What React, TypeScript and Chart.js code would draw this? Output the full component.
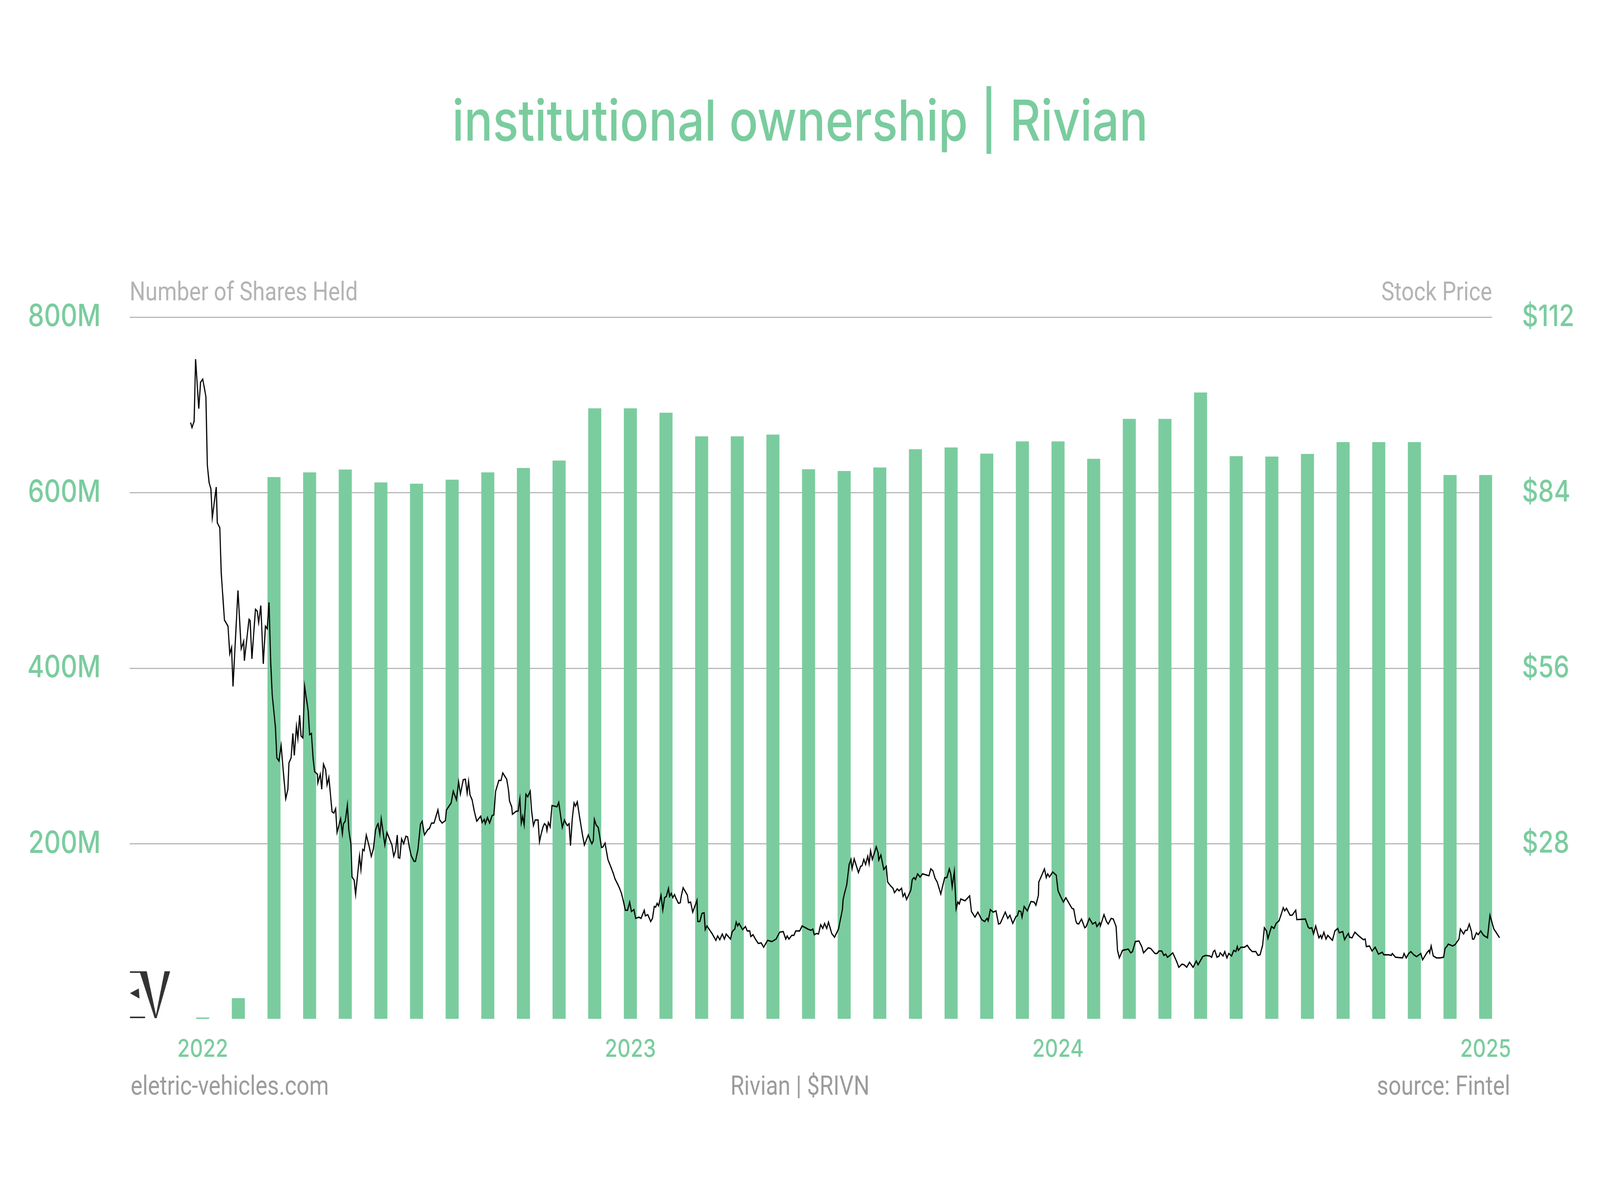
import React, { useEffect, useRef } from 'react';
import { Chart, registerables } from 'chart.js';

Chart.register(...registerables);

const GREEN = '#7acc9e';
const GRID = '#b8b8b8';
const AXIS_TITLE_GRAY = '#b3b3b3';
const FOOT_GRAY = '#9b9b9b';

const titleText = 'institutional ownership | Rivian';
const leftAxisTitle = 'Number of Shares Held';
const rightAxisTitle = 'Stock Price';
const footerLeft = 'eletric-vehicles.com';
const footerCenter = 'Rivian | $RIVN';
const footerRight = 'source: Fintel';

// Monthly institutional holdings (millions of shares)
const barMonths = [
  '2022-01', '2022-02', '2022-03', '2022-04', '2022-05', '2022-06', '2022-07', '2022-08', '2022-09', '2022-10', '2022-11', '2022-12',
  '2023-01', '2023-02', '2023-03', '2023-04', '2023-05', '2023-06', '2023-07', '2023-08', '2023-09', '2023-10', '2023-11', '2023-12',
  '2024-01', '2024-02', '2024-03', '2024-04', '2024-05', '2024-06', '2024-07', '2024-08', '2024-09', '2024-10', '2024-11', '2024-12',
  '2025-01',
];
const sharesHeldM = [
  2, 24, 617.6, 623, 626.2, 611.5, 610.1, 614.7, 623, 628, 636.5, 696,
  696, 691, 664, 664, 666, 626.6, 624.6, 628.5, 649.4, 651.4, 644.4, 658.3,
  658.3, 638.5, 684, 684, 714, 641.4, 641, 644, 657.5, 657.5, 657.5, 620,
  620,
];

// Tick labels
const yearTicks = ['2022', '2023', '2024', '2025'];
const shareTicks = [200, 400, 600, 800];
const priceTicks = [28, 56, 84, 112];

// Stock price: [months since Jan 2022, USD]
const stockPrice: [number, number][] = [
  [-0.34, 95.2], [-0.30, 94.4], [-0.24, 95.4], [-0.20, 105.3], [-0.11, 97.4], [-0.06, 101.6], [0.00, 102.1], [0.04, 100.9],
  [0.09, 99.3], [0.13, 88.4], [0.18, 85.6], [0.23, 84.6], [0.27, 80.0], [0.38, 84.9], [0.41, 79.2], [0.48, 78.4],
  [0.52, 71.2], [0.61, 63.7], [0.71, 62.7], [0.76, 58.3], [0.81, 59.3], [0.85, 53.1], [0.99, 68.4], [1.08, 59.1],
  [1.15, 60.3], [1.17, 57.2], [1.30, 63.8], [1.33, 63.6], [1.38, 57.5], [1.48, 65.4], [1.53, 65.1], [1.57, 63.3],
  [1.63, 66.0], [1.70, 56.7], [1.76, 62.7], [1.81, 62.3], [1.86, 66.5], [1.91, 56.7], [1.95, 51.8],
  [2.04, 46.6], [2.08, 41.7], [2.14, 41.2], [2.20, 43.7], [2.27, 39.0], [2.33, 35.2], [2.39, 36.7], [2.42, 40.9],
  [2.48, 41.7], [2.53, 45.6], [2.57, 42.1], [2.63, 46.7], [2.67, 44.8], [2.72, 48.5], [2.76, 45.2], [2.81, 44.9],
  [2.86, 53.1], [2.96, 49.2], [3.00, 45.4], [3.05, 45.6], [3.10, 41.5], [3.14, 39.5], [3.22, 39.1], [3.23, 37.7],
  [3.30, 39.1], [3.34, 36.7], [3.39, 40.7], [3.45, 39.8], [3.49, 37.4], [3.54, 38.6], [3.63, 33.1], [3.68, 32.9],
  [3.73, 33.6], [3.77, 29.8], [3.87, 32.0], [3.92, 29.6], [3.95, 31.2], [4.00, 31.6], [4.06, 34.2], [4.10, 30.2],
  [4.16, 27.9], [4.19, 22.7], [4.25, 22.2], [4.29, 19.9], [4.40, 26.1], [4.44, 23.9], [4.49, 27.1], [4.53, 26.9],
  [4.59, 29.4], [4.67, 27.6], [4.73, 26.0], [4.79, 27.2], [4.85, 30.2], [4.89, 30.9], [4.92, 31.2], [4.97, 29.5],
  [5.01, 32.0], [5.11, 27.8], [5.17, 29.8], [5.31, 27.8], [5.36, 26.0], [5.41, 26.9], [5.46, 29.4], [5.49, 25.8],
  [5.53, 25.7], [5.58, 28.8], [5.64, 28.0], [5.70, 29.2], [5.75, 29.1], [5.80, 27.4], [5.85, 26.1], [5.93, 25.2],
  [5.97, 25.2], [6.04, 27.1], [6.11, 31.1], [6.16, 31.6], [6.22, 29.4], [6.32, 30.3], [6.36, 30.4], [6.42, 31.3],
  [6.49, 31.3], [6.60, 33.4], [6.65, 31.8], [6.72, 31.3], [6.81, 31.7], [6.84, 33.4], [6.97, 34.5], [7.03, 36.4],
  [7.12, 35.0], [7.18, 37.9], [7.23, 35.9], [7.31, 38.2], [7.37, 38.3], [7.42, 36.1], [7.46, 38.0], [7.50, 35.8],
  [7.56, 35.0], [7.62, 33.2], [7.69, 31.6], [7.80, 32.4], [7.84, 31.4], [7.90, 31.9], [7.93, 31.2], [7.99, 32.2],
  [8.05, 31.3], [8.12, 32.5], [8.17, 32.6], [8.22, 36.4], [8.31, 38.1], [8.37, 38.1], [8.42, 39.3], [8.53, 38.3],
  [8.58, 36.6], [8.61, 34.8], [8.67, 33.9], [8.69, 32.7], [8.80, 33.2], [8.85, 33.2], [8.90, 35.2],
  [8.94, 31.3], [8.98, 32.4], [9.02, 31.0], [9.07, 35.9], [9.12, 35.5], [9.19, 36.4], [9.23, 33.2], [9.28, 30.9],
  [9.33, 31.8], [9.41, 31.8], [9.45, 28.3], [9.49, 29.4], [9.55, 30.7], [9.59, 31.2], [9.64, 30.9], [9.66, 30.1],
  [9.70, 31.4], [9.75, 30.7], [9.80, 34.1], [9.94, 33.9], [9.99, 34.6], [10.09, 30.6], [10.15, 31.8], [10.19, 31.3],
  [10.23, 30.9], [10.28, 31.2], [10.32, 27.7], [10.37, 32.0], [10.42, 34.5], [10.46, 34.0], [10.51, 34.7], [10.58, 32.1],
  [10.66, 29.3], [10.71, 27.8], [10.82, 29.4], [10.88, 28.5], [10.92, 28.0], [10.96, 28.5], [10.99, 31.9], [11.04, 31.0],
  [11.10, 30.6], [11.19, 27.4], [11.23, 27.5], [11.29, 28.1], [11.37, 25.5], [11.46, 24.2], [11.52, 23.3], [11.57, 22.4],
  [11.64, 21.6], [11.69, 21.0], [11.75, 20.1], [11.81, 18.7], [11.86, 17.4], [11.92, 17.4], [11.98, 18.7], [12.03, 17.2],
  [12.10, 17.5], [12.15, 16.1], [12.24, 16.3], [12.30, 16.1], [12.39, 17.4], [12.42, 16.5], [12.49, 16.7], [12.57, 15.6],
  [12.62, 16.1], [12.67, 18.0], [12.71, 17.9], [12.75, 18.5], [12.79, 18.1], [12.86, 19.8], [12.91, 17.4], [12.96, 19.4],
  [13.01, 19.6], [13.07, 20.9], [13.10, 19.6], [13.15, 20.1], [13.19, 19.4], [13.24, 19.9], [13.28, 19.3], [13.35, 18.5],
  [13.40, 18.6], [13.43, 19.7], [13.48, 21.0], [13.54, 20.4], [13.60, 19.8], [13.63, 18.6], [13.69, 18.7], [13.75, 17.1],
  [13.87, 19.0], [13.89, 15.6], [13.95, 15.6], [14.01, 16.9], [14.07, 17.0], [14.10, 14.3], [14.15, 14.9], [14.23, 14.2],
  [14.29, 13.7], [14.40, 12.6], [14.45, 13.3], [14.51, 12.7], [14.58, 13.6], [14.64, 12.8], [14.69, 13.6], [14.81, 12.8],
  [14.86, 14.0], [14.93, 14.4], [14.97, 15.5], [15.01, 14.9], [15.05, 15.3], [15.15, 14.3], [15.23, 14.8], [15.28, 14.1],
  [15.35, 14.1], [15.38, 13.2], [15.44, 13.5], [15.52, 12.7], [15.59, 12.1], [15.67, 12.2], [15.74, 11.5], [15.85, 12.6],
  [15.97, 12.4], [16.09, 12.8], [16.19, 13.9], [16.29, 14.0],
  [16.36, 12.8], [16.40, 13.3], [16.45, 12.8], [16.53, 13.4], [16.59, 13.4], [16.64, 14.1], [16.75, 14.1], [16.82, 14.9],
  [16.98, 14.4], [17.07, 14.2], [17.12, 14.4], [17.16, 13.5], [17.23, 13.7], [17.28, 13.6], [17.34, 15.1], [17.40, 14.5],
  [17.45, 15.3], [17.51, 14.5], [17.56, 15.5], [17.65, 13.7], [17.73, 13.1], [17.84, 14.4], [17.95, 17.5], [17.97, 19.1],
  [18.01, 20.1], [18.07, 21.4], [18.14, 24.7], [18.19, 25.5], [18.22, 24.0], [18.28, 25.6], [18.40, 23.4], [18.46, 24.4],
  [18.50, 24.5], [18.55, 25.5], [18.60, 24.7], [18.66, 26.0], [18.70, 24.8], [18.74, 26.9], [18.79, 25.5], [18.90, 27.5],
  [18.95, 26.6], [18.97, 25.4], [19.03, 26.2], [19.11, 23.9], [19.18, 24.4], [19.22, 21.9], [19.30, 21.3], [19.37, 20.9],
  [19.41, 20.2], [19.49, 20.8], [19.54, 20.5], [19.61, 20.9], [19.65, 19.6], [19.70, 20.1], [19.75, 19.1], [19.87, 20.6],
  [19.91, 22.3], [19.96, 22.6], [20.00, 22.3], [20.06, 23.2], [20.13, 22.7], [20.20, 23.2], [20.38, 22.9], [20.43, 24.0],
  [20.49, 23.7], [20.55, 22.5], [20.61, 21.9], [20.71, 20.0], [20.82, 22.6], [20.88, 22.6], [20.95, 24.0], [20.99, 23.2],
  [21.03, 21.1], [21.09, 23.6], [21.14, 17.6], [21.19, 18.7], [21.23, 18.4], [21.27, 19.2], [21.39, 18.9], [21.52, 19.7],
  [21.57, 17.2], [21.67, 16.3], [21.75, 17.1], [21.86, 15.9], [21.94, 15.6], [22.01, 16.1], [22.04, 15.7], [22.10, 17.5],
  [22.18, 17.1], [22.26, 17.3], [22.33, 15.2], [22.38, 15.3], [22.52, 17.1], [22.59, 16.1], [22.65, 16.6], [22.73, 15.3],
  [22.82, 16.4], [22.86, 16.5], [22.90, 17.3], [22.96, 17.2], [22.99, 16.3], [23.05, 18.0], [23.14, 17.3], [23.24, 18.8],
  [23.33, 18.7], [23.38, 18.2], [23.45, 19.8], [23.46, 21.9], [23.53, 22.8], [23.62, 24.0], [23.67, 22.6],
  [23.71, 23.2], [23.76, 22.7], [23.85, 23.5], [23.95, 23.0], [24.00, 20.5], [24.08, 19.5], [24.15, 18.7], [24.22, 19.4],
  [24.31, 18.5], [24.39, 17.7], [24.44, 17.6], [24.50, 15.7], [24.53, 15.3], [24.58, 15.2], [24.66, 16.0], [24.71, 15.2],
  [24.75, 14.6], [24.79, 14.8], [24.88, 16.1], [24.97, 15.2], [25.05, 15.5], [25.09, 14.8], [25.17, 15.4], [25.19, 14.9],
  [25.29, 16.7], [25.36, 15.6], [25.41, 15.2], [25.49, 16.1], [25.55, 16.0], [25.63, 14.8], [25.67, 11.0], [25.72, 9.8],
  [25.81, 11.0], [25.97, 11.2], [26.04, 10.6], [26.09, 10.8], [26.17, 12.4], [26.27, 12.5], [26.35, 11.6], [26.40, 10.6],
  [26.53, 11.4], [26.60, 11.3], [26.72, 10.5], [26.78, 10.5], [26.83, 10.9], [26.91, 10.9], [26.97, 10.2], [27.02, 10.4],
  [27.07, 9.9], [27.14, 10.2], [27.22, 10.6], [27.26, 10.1], [27.33, 9.2], [27.39, 8.3], [27.48, 8.8], [27.54, 8.7],
  [27.61, 8.3], [27.69, 9.1], [27.79, 8.3], [27.88, 9.3], [27.93, 8.7], [27.97, 9.1], [28.06, 10.0], [28.14, 10.2],
  [28.26, 10.1], [28.31, 9.9], [28.36, 10.8], [28.40, 11.0], [28.46, 9.9], [28.52, 10.1], [28.55, 10.6], [28.63, 10.1],
  [28.68, 10.8], [28.74, 9.8], [28.79, 10.5], [28.87, 10.1], [28.93, 11.0], [28.99, 10.8], [29.03, 11.6], [29.06, 11.0],
  [29.13, 11.5], [29.23, 11.5], [29.31, 11.8], [29.38, 11.2], [29.45, 10.8], [29.55, 10.8], [29.61, 10.2], [29.67, 10.3],
  [29.74, 11.8], [29.79, 14.6], [29.85, 14.1], [29.89, 12.9], [29.99, 14.8], [30.06, 14.5], [30.12, 15.3], [30.20, 15.7],
  [30.26, 16.7], [30.32, 17.8], [30.36, 17.3], [30.41, 17.7], [30.51, 16.6], [30.57, 16.6], [30.67, 17.4], [30.70, 15.9],
  [30.94, 16.0], [31.02, 14.7], [31.06, 14.5],
  [31.12, 14.6], [31.17, 13.6], [31.23, 14.9], [31.32, 13.0], [31.37, 13.4], [31.40, 12.9], [31.46, 13.9], [31.52, 12.8],
  [31.57, 13.4], [31.65, 12.9], [31.70, 12.6], [31.77, 14.1], [31.85, 14.5], [31.89, 13.8], [31.99, 14.0], [32.04, 12.7],
  [32.10, 13.3], [32.15, 13.7], [32.18, 13.1], [32.25, 13.0], [32.33, 13.9], [32.44, 13.3], [32.57, 12.7], [32.62, 12.8],
  [32.65, 11.6], [32.74, 11.7], [32.81, 10.9], [32.90, 11.5], [32.99, 10.4], [33.10, 10.7], [33.14, 10.3], [33.27, 10.3],
  [33.35, 10.2], [33.38, 10.5], [33.47, 9.9], [33.67, 9.8], [33.71, 10.5], [33.77, 9.8], [33.84, 10.5], [33.90, 10.8],
  [33.98, 10.3], [34.06, 10.0], [34.18, 10.5], [34.23, 9.5], [34.36, 10.7], [34.41, 11.0], [34.43, 10.6], [34.47, 11.7],
  [34.53, 10.1], [34.62, 9.8], [34.72, 9.8], [34.82, 9.9], [34.86, 11.3], [34.92, 11.7], [34.95, 12.0], [35.07, 11.7],
  [35.14, 11.9], [35.25, 12.8], [35.29, 14.4], [35.38, 13.6], [35.43, 14.2], [35.48, 14.2], [35.54, 15.2], [35.60, 14.0],
  [35.63, 12.8], [35.67, 12.8], [35.74, 13.8], [35.79, 13.5], [35.86, 14.1], [35.94, 13.4], [36.05, 13.0], [36.12, 16.6],
  [36.23, 14.4], [36.29, 13.9], [36.39, 13.0],
];

// Design size (drawing units); the canvas is shown filling the viewport.
const W = 4863;
const H = 3047;

function monthIndex(label: string): number {
  const [y, m] = label.split('-').map(Number);
  return (y - 2022) * 12 + (m - 1);
}

const decorPlugin = {
  id: 'decor',
  afterDraw(chart: any) {
    const ctx = chart.ctx as CanvasRenderingContext2D;
    const area = chart.chartArea;
    ctx.save();
    // title
    ctx.fillStyle = GREEN;
    ctx.font = '500 145px Inter';
    ctx.textAlign = 'center';
    ctx.textBaseline = 'alphabetic';
    ctx.fillText(titleText, W / 2, 360);

    // axis titles
    ctx.fillStyle = AXIS_TITLE_GRAY;
    ctx.font = '400 67px Roboto';
    ctx.textAlign = 'left';
    ctx.fillText(leftAxisTitle, area.left, 769);
    ctx.textAlign = 'right';
    ctx.fillText(rightAxisTitle, area.right, 769);

    // footer
    ctx.fillStyle = FOOT_GRAY;
    ctx.font = '400 68px Roboto';
    ctx.textAlign = 'left';
    ctx.fillText(footerLeft, area.left + 3, 2803);
    ctx.textAlign = 'center';
    ctx.fillText(footerCenter, W / 2, 2803);
    ctx.textAlign = 'right';
    ctx.fillText(footerRight, 4590, 2803);

    // EV logo
    const lx = area.left;
    const ty = 2487;
    const by = 2607;
    ctx.fillStyle = '#333333';
    ctx.fillRect(lx + 1, ty, 50, 4);
    ctx.fillRect(lx + 1, by - 4, 46, 4);
    ctx.beginPath();
    ctx.moveTo(lx + 1, ty + 56);
    ctx.lineTo(lx + 28, ty + 44);
    ctx.lineTo(lx + 30, ty + 70);
    ctx.closePath();
    ctx.fill();
    ctx.beginPath();
    ctx.moveTo(lx + 30, ty);
    ctx.lineTo(lx + 52, ty);
    ctx.lineTo(lx + 82, by);
    ctx.lineTo(lx + 76, by);
    ctx.closePath();
    ctx.fill();
    ctx.beginPath();
    ctx.moveTo(lx + 106, ty);
    ctx.lineTo(lx + 123, ty);
    ctx.lineTo(lx + 82, by);
    ctx.lineTo(lx + 78, by);
    ctx.closePath();
    ctx.fill();
    ctx.restore();
  },
};

export default function App() {
  const canvasRef = useRef<HTMLCanvasElement | null>(null);

  useEffect(() => {
    document.body.style.margin = '0';
    document.body.style.background = '#ffffff';
    document.documentElement.style.overflow = 'hidden';
    const canvas = canvasRef.current;
    if (!canvas) return;

    const cssW = document.documentElement.clientWidth || window.innerWidth || W;
    const cssH = document.documentElement.clientHeight || window.innerHeight || H;
    canvas.style.width = `${cssW}px`;
    canvas.style.height = `${cssH}px`;

    const barData = barMonths.map((mLabel, i) => ({ x: monthIndex(mLabel), y: sharesHeldM[i] }));
    const lineData = stockPrice.map(([t, p]) => ({ x: t, y: p }));

    const chart = new Chart(canvas, {
      type: 'bar',
      data: {
        datasets: [
          {
            type: 'line',
            label: 'Stock Price',
            data: lineData,
            yAxisID: 'y2',
            xAxisID: 'x',
            borderColor: '#000000',
            borderWidth: 3.5,
            pointRadius: 0,
            pointHoverRadius: 0,
            tension: 0,
            fill: false,
            clip: false,
            order: 0,
          } as any,
          {
            type: 'bar',
            label: 'Number of Shares Held',
            data: barData,
            yAxisID: 'y',
            xAxisID: 'x',
            backgroundColor: GREEN,
            borderWidth: 0,
            barThickness: 39,
            order: 1,
          } as any,
        ],
      },
      options: {
        animation: false,
        responsive: false,
        devicePixelRatio: 1,
        layout: { padding: { top: 812, left: 0, right: 0, bottom: 0 } },
        plugins: {
          legend: { display: false },
          tooltip: { enabled: false },
          title: { display: false },
        },
        events: [],
        scales: {
          x: {
            type: 'linear',
            position: 'bottom',
            offset: false,
            bounds: 'data',
            afterDataLimits: (s: any) => {
              s.min = -2.05;
              s.max = 36.18;
            },
            afterBuildTicks: (s: any) => {
              s.ticks = yearTicks.map((_, i) => ({ value: i * 12 }));
            },
            afterFit: (s: any) => {
              s.height = H - 2610;
            },
            grid: { display: false, drawTicks: false },
            border: { display: false },
            ticks: {
              padding: 40,
              color: GREEN,
              font: { family: 'Inter', size: 62, weight: '500' },
              maxRotation: 0,
              autoSkip: false,
              callback: (v: any) => yearTicks[Math.round(Number(v) / 12)] ?? '',
            },
          },
          y: {
            type: 'linear',
            position: 'left',
            min: 0,
            max: 800,
            afterBuildTicks: (s: any) => {
              s.ticks = [0, ...shareTicks].map((v) => ({ value: v }));
            },
            afterFit: (s: any) => {
              s.width = 394;
            },
            grid: {
              drawTicks: false,
              lineWidth: 3,
              color: (c: any) => (c.tick && c.tick.value === 0 ? 'rgba(0,0,0,0)' : GRID),
            },
            border: { display: false },
            ticks: {
              padding: 88,
              color: GREEN,
              font: { family: 'Inter', size: 78, weight: '500' },
              callback: (v: any) => (Number(v) === 0 ? '' : `${v}M`),
            },
          },
          y2: {
            type: 'linear',
            position: 'right',
            min: 0,
            max: 112,
            afterBuildTicks: (s: any) => {
              s.ticks = [0, ...priceTicks].map((v) => ({ value: v }));
            },
            afterFit: (s: any) => {
              s.width = W - 4535;
            },
            grid: { drawOnChartArea: false, drawTicks: false },
            border: { display: false },
            ticks: {
              padding: 91,
              color: GREEN,
              font: { family: 'Inter', size: 76, weight: '500' },
              callback: (v: any) => (Number(v) === 0 ? '' : `$${v}`),
            },
          },
        },
      } as any,
      plugins: [decorPlugin],
    });

    return () => {
      chart.destroy();
    };
  }, []);

  return (
    <div style={{ position: 'relative', background: '#fff' }}>
      <canvas ref={canvasRef} width={W} height={H} style={{ display: 'block' }} />
    </div>
  );
}
